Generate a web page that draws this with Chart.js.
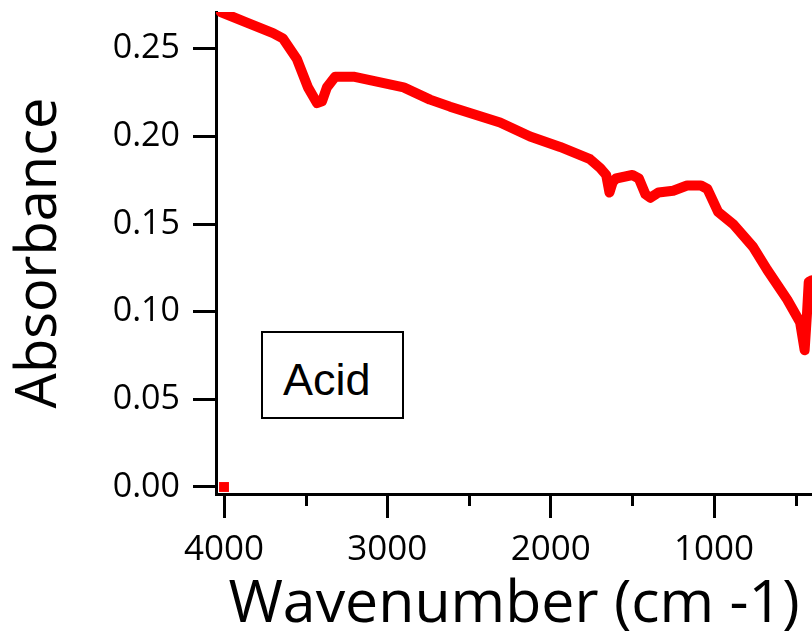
<!DOCTYPE html>
<html>
<head>
<meta charset="utf-8">
<script src="https://cdn.jsdelivr.net/npm/chart.js@4"></script>
<style>
  html, body { margin: 0; padding: 0; background: #fff; }
  #wrap { position: relative; width: 812px; height: 642px; overflow: hidden; }
  #c { display: block; }
  #label {
    position: absolute; left: 261px; top: 331px; width: 143px; height: 88px;
    box-sizing: border-box; border: 2px solid #000; background: #fff;
  }
  #label span {
    position: absolute; left: 20px; top: 24px;
    font-family: "Liberation Sans", Arial, sans-serif; font-size: 45px; line-height: 1; color: #000;
  }
</style>
</head>
<body>
<div id="wrap">
  <canvas id="c" width="812" height="642"></canvas>
  <div id="label"><span>Acid</span></div>
</div>
<script>
// ---- data ----
const wavenumbers = [4020, 3860, 3700, 3640, 3553, 3486, 3430, 3400, 3370, 3320, 3200, 3100, 2900, 2739, 2616, 2310, 2126, 1942, 1759, 1697, 1660, 1640, 1620, 1600, 1500, 1460, 1420, 1390, 1340, 1250, 1165, 1080, 1040, 975, 883, 761, 675, 552, 473, 445, 430, 420, 400];
const absorbance  = [0.271, 0.265, 0.259, 0.256, 0.244, 0.228, 0.219, 0.220, 0.228, 0.234, 0.234, 0.232, 0.228, 0.221, 0.217, 0.208, 0.200, 0.194, 0.187, 0.182, 0.178, 0.168, 0.174, 0.176, 0.178, 0.176, 0.167, 0.165, 0.168, 0.169, 0.172, 0.172, 0.170, 0.157, 0.150, 0.137, 0.124, 0.107, 0.094, 0.078, 0.100, 0.117, 0.118];
const markerX = [4000];
const markerY = [0];
const xMajorTicks = [4000, 3000, 2000, 1000];
const xMinorTicks = [3500, 2500, 1500, 500];
const yTicks = [0, 0.05, 0.10, 0.15, 0.20, 0.25];
const xTitle = "Wavenumber (cm -1)";
const yTitle = "Absorbance";

const AXIS_FONT = '"Open Sans", "DejaVu Sans", sans-serif';

const minorTickPlugin = {
  id: 'minorTicks',
  afterDraw(chart) {
    const s = chart.scales.x;
    const ctx = chart.ctx;
    ctx.save();
    ctx.strokeStyle = '#000';
    ctx.lineWidth = 3;
    xMinorTicks.forEach(v => {
      const px = Math.round(s.getPixelForValue(v)) + 0.5;
      ctx.beginPath();
      ctx.moveTo(px, s.top);
      ctx.lineTo(px, s.top + 12);
      ctx.stroke();
    });
    ctx.restore();
  }
};

new Chart(document.getElementById('c'), {
  type: 'line',
  data: {
    datasets: [
      {
        data: wavenumbers.map((w, i) => ({ x: w, y: absorbance[i] })),
        borderColor: '#ff0000',
        borderWidth: 10,
        pointRadius: 0,
        tension: 0,
        borderJoinStyle: 'round',
        borderCapStyle: 'round',
        fill: false
      },
      {
        data: markerX.map((w, i) => ({ x: w, y: markerY[i] })),
        showLine: false,
        pointStyle: 'rect',
        pointRadius: 7,
        pointBackgroundColor: '#ff0000',
        pointBorderWidth: 0,
        borderColor: '#ff0000'
      }
    ]
  },
  options: {
    responsive: false,
    animation: false,
    devicePixelRatio: 1,
    layout: { autoPadding: false, padding: { top: 12, right: 0, left: 0, bottom: 0 } },
    plugins: { legend: { display: false }, tooltip: { enabled: false }, title: { display: false } },
    scales: {
      x: {
        type: 'linear',
        reverse: true,
        min: 400,
        max: 4049,
        afterFit(scale) {
          scale.height = 148;
          scale.paddingLeft = 0; scale.paddingRight = 0;
        },
        afterBuildTicks(scale) {
          scale.ticks = xMajorTicks.map(v => ({ value: v }));
        },
        ticks: {
          color: '#000',
          padding: 11,
          maxRotation: 0,
          autoSkip: false,
          font: { family: AXIS_FONT, size: 35 },
          callback: v => String(v)
        },
        grid: {
          drawOnChartArea: false,
          drawTicks: true,
          tickLength: 24,
          tickWidth: 3,
          tickColor: '#000'
        },
        border: { display: true, color: '#000', width: 3 },
        title: {
          display: true,
          text: xTitle,
          color: '#000',
          font: { family: AXIS_FONT, size: 59, lineHeight: 1 },
          padding: { top: 0, bottom: 7 }
        }
      },
      y: {
        type: 'linear',
        min: -0.004,
        max: 0.271,
        afterFit(scale) {
          scale.width = 216;
          scale.paddingTop = 0; scale.paddingBottom = 0;
        },
        afterBuildTicks(scale) {
          scale.ticks = yTicks.map(v => ({ value: v }));
        },
        ticks: {
          color: '#000',
          padding: 13,
          font: { family: AXIS_FONT, size: 34 },
          callback: v => Number(v).toFixed(2)
        },
        grid: {
          drawOnChartArea: false,
          drawTicks: true,
          tickLength: 23,
          tickWidth: 3,
          tickColor: '#000'
        },
        border: { display: true, color: '#000', width: 3 },
        title: {
          display: true,
          text: yTitle,
          color: '#000',
          font: { family: AXIS_FONT, size: 56, lineHeight: 1 },
          padding: { top: 12, bottom: 0 }
        }
      }
    }
  },
  plugins: [minorTickPlugin]
});
</script>
</body>
</html>
